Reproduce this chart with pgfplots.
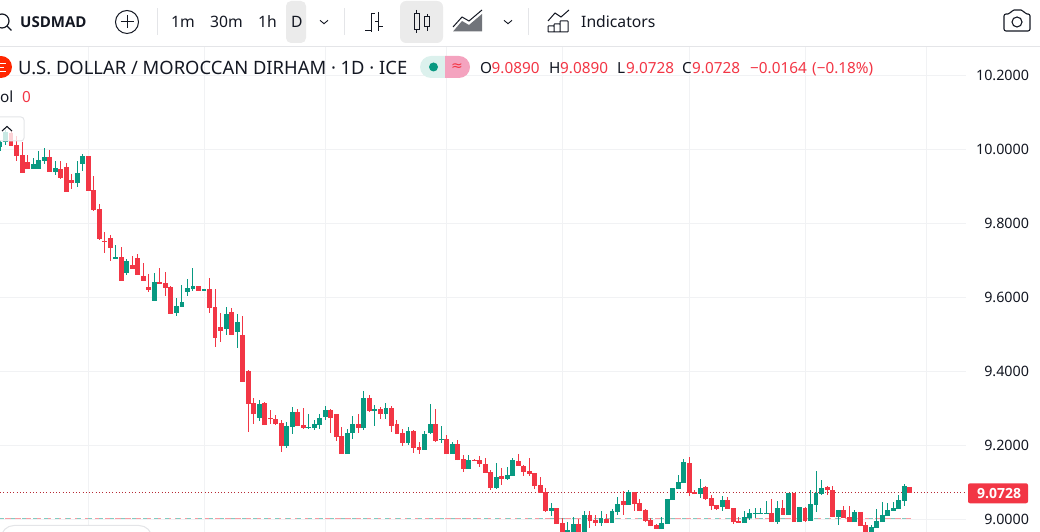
\documentclass[border=0pt]{standalone}
\usepackage{pgfplots}
\usepackage{pgfplotstable}
\usepackage{fontspec}
\setmainfont{Noto Sans}
\newfontfamily\boldf{Open Sans}
\newfontfamily\symf{DejaVu Sans}
\pgfplotsset{compat=1.18}
\definecolor{tvred}{HTML}{F23645}
\definecolor{tvgreen}{HTML}{089981}
\definecolor{tvgrid}{HTML}{F1F2F4}
\definecolor{tvline}{HTML}{E4E5E8}
\definecolor{tvtext}{HTML}{131722}
\definecolor{tvbox}{HTML}{EBEBEB}
\pgfplotstableread{
x o h l c
0 10.0068 10.0257 9.9959 10.0203
1 10.0203 10.0527 10.0122 10.0473
6 9.9482 9.9770 9.9482 9.9599
7 9.9482 9.9950 9.9482 9.9707
8 9.9698 10.0031 9.9617 9.9788
10 9.9401 9.9680 9.9311 9.9500
14 9.9103 9.9680 9.8986 9.9365
15 9.9617 9.9869 9.9428 9.9824
21 9.7049 9.7419 9.7049 9.7094
23 9.6671 9.7041 9.6617 9.6987
28 9.5914 9.6653 9.5914 9.6419
32 9.5590 9.5987 9.5509 9.5770
33 9.5752 9.6338 9.5752 9.5878
34 9.6158 9.6500 9.6050 9.6257
35 9.6239 9.6797 9.6185 9.6311
37 9.6185 9.6230 9.6185 9.6230
41 9.5158 9.5743 9.4995 9.5554
43 9.5068 9.5554 9.4644 9.5338
47 9.2752 9.3229 9.2662 9.3130
52 9.1986 9.2635 9.1932 9.2527
53 9.2500 9.3040 9.2310 9.2905
56 9.2473 9.2851 9.2446 9.2500
57 9.2473 9.2689 9.2419 9.2581
58 9.2554 9.2851 9.2446 9.2743
59 9.2770 9.3067 9.2689 9.2959
63 9.1770 9.2446 9.1770 9.2337
64 9.2337 9.2797 9.2175 9.2581
66 9.2473 9.3473 9.2419 9.3283
68 9.2932 9.3094 9.2527 9.2986
70 9.2851 9.3148 9.2716 9.3013
74 9.2067 9.2500 9.2013 9.2391
77 9.1879 9.2392 9.1879 9.2311
78 9.2338 9.3122 9.2311 9.2581
80 9.2149 9.2527 9.2068 9.2176
82 9.1770 9.2095 9.1770 9.2041
85 9.1365 9.1743 9.1365 9.1608
90 9.0851 9.1527 9.0824 9.1149
92 9.1095 9.1419 9.1068 9.1203
93 9.1176 9.1662 9.1176 9.1608
100 9.0230 9.0446 9.0095 9.0311
103 8.9650 8.9932 8.9650 8.9716
104 8.9650 9.0067 8.9650 8.9878
106 8.9650 9.0229 8.9650 9.0121
109 8.9905 9.0229 8.9824 9.0031
111 8.9905 9.0283 8.9905 9.0229
112 9.0202 9.0608 9.0121 9.0418
114 9.0391 9.0797 9.0391 9.0743
120 8.9743 9.0067 8.9743 8.9905
121 8.9878 9.0554 8.9878 9.0554
122 9.0527 9.0851 9.0527 9.0851
123 9.0824 9.1202 9.0824 9.1013
124 9.0986 9.1635 9.0986 9.1554
127 9.0689 9.1094 9.0581 9.0851
131 9.0338 9.0635 9.0230 9.0527
135 8.9905 9.0230 8.9905 9.0067
136 9.0040 9.0284 8.9986 9.0176
137 9.0149 9.0311 9.0040 9.0176
138 9.0149 9.0320 9.0149 9.0176
139 9.0149 9.0500 9.0149 9.0176
141 8.9932 9.0500 8.9878 9.0311
143 9.0122 9.0716 9.0122 9.0716
145 8.9932 9.0338 8.9932 9.0338
147 8.9959 9.0797 8.9959 9.0419
148 9.0392 9.1311 9.0203 9.0716
149 9.0689 9.1068 9.0662 9.0851
152 9.0067 9.0257 8.9851 9.0257
155 8.9932 9.0257 8.9932 9.0203
158 8.9662 8.9851 8.9662 8.9797
159 8.9770 9.0284 8.9770 8.9959
160 8.9932 9.0473 8.9932 9.0122
161 9.0094 9.0446 9.0094 9.0257
162 9.0230 9.0473 9.0230 9.0311
163 9.0284 9.0662 9.0284 9.0527
164 9.0500 9.0959 9.0365 9.0905
}\upcandles
\pgfplotstableread{
x o h l c
2 10.0446 10.0500 10.0095 10.0095
3 10.0122 10.0365 9.9689 9.9833
4 9.9851 10.0194 9.9374 9.9374
5 9.9653 9.9851 9.9482 9.9482
9 9.9788 9.9986 9.9392 9.9392
11 9.9464 9.9689 9.9212 9.9230
12 9.9527 9.9635 9.8860 9.8860
13 9.9166 9.9338 9.8932 9.9103
16 9.9824 9.9824 9.8887 9.8887
17 9.8905 9.9284 9.8347 9.8374
18 9.8392 9.8527 9.7563 9.7581
19 9.7527 9.7770 9.7211 9.7509
20 9.7608 9.7689 9.6995 9.7346
22 9.7094 9.7364 9.6454 9.6454
24 9.6888 9.7122 9.6779 9.6779
25 9.7068 9.7167 9.6617 9.6617
26 9.6581 9.6933 9.6455 9.6455
27 9.6284 9.6635 9.6158 9.6203
29 9.6419 9.6797 9.6374 9.6374
30 9.6392 9.6680 9.6041 9.6266
31 9.6284 9.6311 9.5563 9.5563
36 9.6311 9.6311 9.6185 9.6185
38 9.6230 9.6518 9.5590 9.5716
39 9.5743 9.6230 9.4671 9.4914
40 9.5203 9.5581 9.4797 9.5104
42 9.5608 9.5716 9.4995 9.4995
44 9.4986 9.5500 9.3725 9.3725
45 9.4022 9.4040 9.2365 9.3130
46 9.3148 9.3283 9.2581 9.2851
48 9.3148 9.3175 9.2554 9.2554
49 9.2743 9.2959 9.2581 9.2716
50 9.2716 9.2824 9.2554 9.2581
51 9.2608 9.2689 9.1824 9.1986
54 9.2905 9.2986 9.2527 9.2527
55 9.2554 9.3013 9.2446 9.2473
60 9.2959 9.2986 9.2337 9.2743
61 9.2851 9.2851 9.2121 9.2229
62 9.2256 9.2500 9.1770 9.1770
65 9.2581 9.2851 9.2337 9.2473
67 9.3283 9.3365 9.2905 9.2932
69 9.2986 9.3040 9.2716 9.2851
71 9.3013 9.3067 9.2364 9.2527
72 9.2581 9.2689 9.2310 9.2310
73 9.2337 9.2446 9.1986 9.2067
75 9.2392 9.2419 9.1797 9.1933
76 9.1960 9.2095 9.1770 9.1879
79 9.2581 9.2987 9.2095 9.2122
81 9.2176 9.2284 9.1770 9.1770
83 9.2041 9.2149 9.1608 9.1608
84 9.1635 9.1743 9.1284 9.1365
86 9.1608 9.1635 9.1581 9.1581
87 9.1608 9.1716 9.1419 9.1500
88 9.1500 9.1662 9.1257 9.1257
89 9.1284 9.1338 9.0797 9.0851
91 9.1176 9.1392 9.0932 9.1095
94 9.1581 9.1770 9.1446 9.1446
95 9.1446 9.1473 9.1176 9.1284
96 9.1311 9.1662 9.1176 9.1230
97 9.1257 9.1257 9.0824 9.0905
98 9.0932 9.1149 9.0716 9.0716
99 9.0743 9.0851 9.0203 9.0230
101 9.0311 9.0311 8.9878 8.9878
102 8.9905 9.0040 8.9650 8.9650
105 8.9878 9.0013 8.9650 8.9650
107 9.0121 9.0229 8.9770 8.9959
108 8.9986 9.0121 8.9824 8.9905
110 9.0013 9.0148 8.9905 8.9905
113 9.0499 9.0770 9.0121 9.0391
115 9.0743 9.0743 9.0229 9.0418
116 9.0445 9.0554 9.0229 9.0229
117 9.0256 9.0283 8.9932 8.9959
118 8.9986 9.0040 8.9824 8.9824
119 8.9851 8.9878 8.9743 8.9743
125 9.1527 9.1689 9.0635 9.0716
126 9.0743 9.0797 9.0689 9.0689
128 9.0878 9.0905 9.0527 9.0554
129 9.0581 9.0662 9.0256 9.0364
130 9.0391 9.0391 9.0256 9.0283
132 9.0527 9.0608 9.0284 9.0284
133 9.0311 9.0311 8.9878 8.9932
134 8.9959 9.0067 8.9905 8.9905
140 9.0176 9.0554 8.9932 8.9932
142 9.0311 9.0527 9.0122 9.0122
144 9.0716 9.0716 8.9932 8.9932
146 9.0311 9.0338 8.9932 8.9959
150 9.0878 9.0905 9.0662 9.0797
151 9.0797 9.0905 9.0067 9.0067
153 9.0257 9.0365 9.0040 9.0040
154 9.0067 9.0365 8.9932 8.9932
156 9.0203 9.0203 8.9824 8.9824
157 8.9851 8.9932 8.9662 8.9662
165 9.0890 9.0890 9.0728 9.0728
}\downcandles
\newcommand{\T}[4][tvtext]{\node[anchor=base west,inner sep=0pt,text=#1] at (#2pt,532pt-#3pt) {#4};}
\newcommand{\chev}[2]{\draw[tvtext,line width=.9pt] (#1pt-4pt,532pt-#2pt+1.7pt) -- (#1pt,532pt-#2pt-1.7pt) -- (#1pt+4pt,532pt-#2pt+1.7pt);}
\begin{document}
\begin{tikzpicture}[x=1pt,y=1pt]
\path[use as bounding box] (0,0) rectangle (1040pt,532pt);
\begin{axis}[
  at={(0pt,0pt)},anchor=south west,
  scale only axis,width=966pt,height=485.5pt,
  xmin=0,xmax=175.2,ymin=8.96622,ymax=10.27838,
  axis line style={draw=none},
  xtick={16,37,59,81,102,125,146,168},xticklabels={},
  ytick={9,9.2,9.4,9.6,9.8,10,10.2},
  major tick length=0pt,
  grid=major,major grid style={tvgrid,line width=1pt},
  yticklabel pos=right,
  yticklabel style={anchor=east,xshift=66.5pt,font=\fontsize{14.3}{17}\selectfont,text=tvtext,
    /pgf/number format/fixed,/pgf/number format/zerofill,/pgf/number format/precision=4,
    /pgf/number format/assume math mode=true},
  scaled y ticks=false,
]
\addplot[tvred!50,line width=1pt,dash pattern=on 6pt off 4pt,dash phase=5pt,forget plot] coordinates {(0,9.0022) (165.4,9.0022)};
\addplot[tvgreen!50,line width=1pt,dash pattern=on 4pt off 7pt,forget plot] coordinates {(0,9.0022) (165.4,9.0022)};
\addplot[tvred!75!black,line width=1pt,dash pattern=on 1pt off 2.3pt,forget plot] coordinates {(0,9.0728) (175.2,9.0728)};
% wicks
\addplot[draw=none,forget plot,error bars/.cd,y dir=both,y explicit,error mark=none,
  error bar style={draw=tvgreen,line width=1pt}]
  table[x=x,y=c,y error plus expr=\thisrow{h}-\thisrow{c},y error minus expr=\thisrow{c}-\thisrow{l}] {\upcandles};
\addplot[draw=none,forget plot,error bars/.cd,y dir=both,y explicit,error mark=none,
  error bar style={draw=tvred,line width=1pt}]
  table[x=x,y=c,y error plus expr=\thisrow{h}-\thisrow{c},y error minus expr=\thisrow{c}-\thisrow{l}] {\downcandles};
% bodies
\addplot[draw=none,forget plot,error bars/.cd,y dir=plus,y explicit,error mark=none,
  error bar style={draw=tvgreen,line width=4.9pt}]
  table[x=x,y=o,y error plus expr=\thisrow{c}-\thisrow{o}] {\upcandles};
\addplot[draw=none,forget plot,error bars/.cd,y dir=plus,y explicit,error mark=none,
  error bar style={draw=tvred,line width=4.9pt}]
  table[x=x,y=c,y error plus expr=\thisrow{o}-\thisrow{c}] {\downcandles};
\end{axis}
% header rule
\draw[tvline,line width=1pt] (0,532pt-46.5pt) -- (1040pt,532pt-46.5pt);
% selected boxes
\fill[tvbox,rounded corners=5pt] (286pt,532pt-1pt) rectangle (306pt,532pt-43pt);
\fill[tvbox,rounded corners=6pt] (400pt,532pt-1pt) rectangle (443pt,532pt-43pt);
% separators
\foreach \xx in {157,344,528}{\draw[tvline,line width=1pt] (\xx pt,532pt-8pt) -- (\xx pt,532pt-35pt);}
% magnifier
\draw[tvtext,line width=1.2pt] (2pt,532pt-21pt) circle (7pt);
\draw[tvtext,line width=1.4pt] (7pt,532pt-26pt) -- (11.5pt,532pt-30.5pt);
\begin{scope}[font=\fontsize{15.7}{18}\selectfont]
\T{20}{28}{{\boldf\bfseries\fontsize{15}{18}\selectfont USDMAD}}
\T{171}{28}{1m}
\T{210}{28}{30m}
\T{258}{28}{1h}
\T{291}{28}{D}
\T{581}{28}{Indicators}
\end{scope}
% plus
\draw[tvtext,line width=1pt] (127pt,532pt-22pt) circle (11.5pt);
\draw[tvtext,line width=1pt] (120.5pt,532pt-22pt) -- (133.5pt,532pt-22pt) (127pt,532pt-15.5pt) -- (127pt,532pt-28.5pt);
\chev{324}{22}\chev{508}{22}
% bar icon
\draw[tvtext,line width=1pt] (371.5pt,532pt-13pt) -- (371.5pt,532pt-32pt) (365pt,532pt-31pt) -- (371.5pt,532pt-31pt) (371.5pt,532pt-14pt) -- (375pt,532pt-14pt)
  (378.5pt,532pt-12pt) -- (378.5pt,532pt-31pt) (375pt,532pt-22pt) -- (378.5pt,532pt-22pt) (378.5pt,532pt-27pt) -- (383pt,532pt-27pt);
% candle icon
\draw[tvtext,line width=1pt] (416.5pt,532pt-10pt) -- (416.5pt,532pt-33pt) (427pt,532pt-14pt) -- (427pt,532pt-31pt);
\draw[tvtext,fill=tvbox,line width=1pt] (414pt,532pt-13.5pt) rectangle (419pt,532pt-29.5pt);
\draw[tvtext,fill=tvbox,line width=1pt] (424.5pt,532pt-17pt) rectangle (429.5pt,532pt-27pt);
% area icon
\fill[tvtext!60] (453pt,532pt-31.5pt) -- (462pt,532pt-21pt) -- (469pt,532pt-25pt) -- (482pt,532pt-14pt) -- (482pt,532pt-31.5pt) -- cycle;
\draw[tvtext,line width=1pt] (453pt,532pt-27pt) -- (462pt,532pt-17pt) -- (469pt,532pt-21pt) -- (482pt,532pt-10pt);
% indicators icon
\draw[tvtext,line width=1pt,rounded corners=.5pt] (548pt,532pt-32pt) rectangle (554pt,532pt-26pt) (554pt,532pt-32pt) rectangle (560pt,532pt-24pt) (560pt,532pt-32pt) rectangle (568pt,532pt-21pt);
\draw[tvtext,line width=1pt] (548pt,532pt-21pt) -- (555pt,532pt-13pt) -- (561pt,532pt-17pt) -- (569pt,532pt-10pt);
% camera
\draw[tvtext,line width=1.1pt,rounded corners=2pt] (1004pt,532pt-31pt) -- (1004pt,532pt-14pt) -- (1010pt,532pt-14pt) -- (1012pt,532pt-10pt) -- (1023pt,532pt-10pt) -- (1025pt,532pt-14pt) -- (1030pt,532pt-14pt) -- (1030pt,532pt-31pt) -- cycle;
\draw[tvtext,line width=1.1pt] (1017pt,532pt-22pt) circle (5pt);
% logo
\fill[red!70!orange] (1pt,532pt-67pt) circle (11pt);
\draw[white,line width=1pt] (-5pt,532pt-64pt) -- (6pt,532pt-64pt) (-5pt,532pt-68pt) -- (4pt,532pt-68pt) (-5pt,532pt-72pt) -- (6pt,532pt-72pt);
% title row
\T{18}{74.5}{\fontsize{18.4}{21}\selectfont U.S. DOLLAR / MOROCCAN DIRHAM · 1D · ICE}
\fill[tvgreen!14] (431pt,532pt-56pt) arc (90:270:11pt) -- (445pt,532pt-78pt) -- (445pt,532pt-56pt) -- cycle;
\definecolor{tvpink}{HTML}{F4A3BF}
\fill[tvpink] (445pt,532pt-56pt) -- (459pt,532pt-56pt) arc (90:-90:11pt) -- (445pt,532pt-78pt) -- cycle;
\fill[tvgreen] (433.5pt,532pt-67pt) circle (4.5pt);
\node[text=tvred,inner sep=0pt,anchor=center] at (457pt,532pt-67pt) {\symf\fontsize{14}{16}\selectfont ≈};
\begin{scope}[font=\fontsize{15.3}{18}\selectfont]
\T{480}{74}{O}\T[tvred]{491.5}{74}{9.0890}
\T{549}{74}{H}\T[tvred]{560}{74}{9.0890}
\T{617}{74}{L}\T[tvred]{626}{74}{9.0728}
\T{682}{74}{C}\T[tvred]{692}{74}{9.0728}
\T[tvred]{750}{74}{−0.0164}
\T[tvred]{812}{74}{(−0.18\%)}
\T{0}{103}{ol}
\T[tvred]{22}{103}{0}
\end{scope}
% collapse button
\draw[tvline,line width=1pt,fill=white,fill opacity=.78,rounded corners=3pt] (-6pt,532pt-117pt) rectangle (24pt,532pt-141pt);
\draw[tvtext,line width=1.1pt] (2pt,532pt-131pt) -- (7pt,532pt-126.5pt) -- (12pt,532pt-131pt);
% bottom panel outline
\draw[tvline,line width=1pt,fill=white,rounded corners=13pt] (1pt,532pt-560pt) rectangle (152pt,532pt-525.5pt);
% last price tag
\fill[tvred,rounded corners=2pt] (968pt,532pt-483.3pt) rectangle (1028pt,532pt-503.3pt);
\node[text=white,inner sep=0pt,anchor=base] at (999pt,532pt-498.3pt) {\boldf\bfseries\fontsize{14}{17}\selectfont 9.0728};
\end{tikzpicture}
\end{document}
